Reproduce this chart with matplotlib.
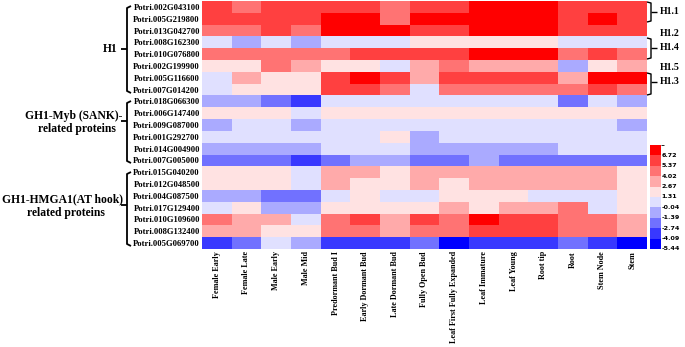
import matplotlib
matplotlib.use("Agg")
import matplotlib.pyplot as plt
import numpy as np
from matplotlib.colors import ListedColormap, BoundaryNorm

genes = ["Potri.002G043100", "Potri.005G219800", "Potri.013G042700", "Potri.008G162300",
         "Potri.010G076800", "Potri.002G199900", "Potri.005G116600", "Potri.007G014200",
         "Potri.018G066300", "Potri.006G147400", "Potri.009G087000", "Potri.001G292700",
         "Potri.014G004900", "Potri.007G005000", "Potri.015G040200", "Potri.012G048500",
         "Potri.004G087500", "Potri.017G129400", "Potri.010G109600", "Potri.008G132400",
         "Potri.005G069700"]

tissues = ["Female Early", "Female Late", "Male Early", "Male Mid", "Predormant Bud I",
           "Early Dormant Bud", "Late Dormant Bud", "Fully Open Bud", "Leaf First Fully Expanded",
           "Leaf Immature", "Leaf Young", "Root tip", "Root", "Stem Node", "Stem"]

expr = [
    [6.0, 4.7, 6.0, 6.0, 6.0, 6.0, 4.7, 6.0, 6.0, 7.4, 7.4, 7.4, 6.0, 6.0, 6.0],
    [6.0, 6.0, 6.0, 6.0, 7.4, 7.4, 4.7, 7.4, 7.4, 7.4, 7.4, 7.4, 6.0, 7.4, 6.0],
    [4.7, 4.7, 6.0, 4.7, 7.4, 7.4, 7.4, 6.0, 6.0, 7.4, 7.4, 7.4, 6.0, 6.0, 6.0],
    [0.6, -0.7, 0.6, -0.7, 0.6, 0.6, 0.6, 2.0, 2.0, 2.0, 2.0, 2.0, 0.6, 0.6, 0.6],
    [4.7, 4.7, 4.7, 4.7, 4.7, 6.0, 6.0, 6.0, 6.0, 7.4, 7.4, 7.4, 4.7, 6.0, 4.7],
    [2.0, 2.0, 4.7, 3.3, 2.0, 2.0, 0.6, 3.3, 4.7, 3.3, 3.3, 3.3, -0.7, 2.0, 3.3],
    [0.6, 3.3, 2.0, 2.0, 6.0, 7.4, 6.0, 3.3, 6.0, 6.0, 6.0, 6.0, 3.3, 7.4, 7.4],
    [0.6, 2.0, 2.0, 2.0, 6.0, 6.0, 4.7, 0.6, 4.7, 4.7, 4.7, 4.7, 4.7, 6.0, 4.7],
    [-0.7, -0.7, -2.1, -3.4, 0.6, 0.6, 0.6, 0.6, 0.6, 0.6, 0.6, 0.6, -2.1, 0.6, -0.7],
    [2.0, 2.0, 2.0, 0.6, 2.0, 2.0, 2.0, 2.0, 2.0, 2.0, 2.0, 2.0, 2.0, 2.0, 2.0],
    [-0.7, 0.6, 0.6, -0.7, 0.6, 0.6, 0.6, 0.6, 0.6, 0.6, 0.6, 0.6, 0.6, 0.6, -0.7],
    [0.6, 0.6, 0.6, 0.6, 0.6, 0.6, 2.0, -0.7, 0.6, 0.6, 0.6, 0.6, 0.6, 0.6, 0.6],
    [-0.7, -0.7, -0.7, -0.7, 0.6, 0.6, 0.6, -0.7, -0.7, -0.7, -0.7, -0.7, 0.6, 0.6, 0.6],
    [-2.1, -2.1, -2.1, -3.4, -2.1, -0.7, -0.7, -2.1, -2.1, -0.7, -2.1, -2.1, -2.1, -2.1, -2.1],
    [2.0, 2.0, 2.0, 0.6, 3.3, 3.3, 2.0, 3.3, 3.3, 3.3, 3.3, 3.3, 3.3, 3.3, 2.0],
    [2.0, 2.0, 2.0, 0.6, 3.3, 2.0, 2.0, 3.3, 2.0, 3.3, 3.3, 3.3, 3.3, 3.3, 2.0],
    [-0.7, -0.7, -2.1, -2.1, 0.6, 2.0, 0.6, 0.6, 2.0, 2.0, 2.0, 0.6, 0.6, 0.6, 2.0],
    [0.6, 2.0, -0.7, -0.7, 2.0, 2.0, 2.0, 2.0, 3.3, 2.0, 3.3, 3.3, 4.7, 0.6, 2.0],
    [4.7, 3.3, 3.3, 0.6, 4.7, 6.0, 3.3, 6.0, 4.7, 7.4, 6.0, 6.0, 4.7, 4.7, 3.3],
    [3.3, 3.3, 2.0, 2.0, 4.7, 4.7, 3.3, 4.7, 4.7, 6.0, 6.0, 6.0, 4.7, 4.7, 3.3],
    [-3.4, -2.1, 0.6, -0.7, -3.4, -3.4, -3.4, -2.1, -4.8, -3.4, -3.4, -3.4, -2.1, -3.4, -4.8],
]

bounds = [-5.44, -4.09, -2.74, -1.39, -0.04, 1.31, 2.67, 4.02, 5.37, 6.72, 8.07]
tick_labels = ["-5.44", "-4.09", "-2.74", "-1.39", "-0.04", "1.31", "2.67", "4.02", "5.37", "6.72"]
colors = ["#0000FF", "#3838FF", "#7171FF", "#AAAAFF", "#E0E0FF",
          "#FFE2E2", "#FFAAAA", "#FF7373", "#FF4040", "#FF0000"]

W, H = 685, 347
fig = plt.figure(figsize=(W / 100, H / 100), dpi=100)

def fx(x):
    return x / W

def fy(y):
    return 1 - y / H

serif = "Liberation Serif"

ax = fig.add_axes([fx(202), fy(249), fx(647) - fx(202), fy(1) - fy(249)])
cmap = ListedColormap(colors)
norm = BoundaryNorm(bounds, cmap.N)
data = np.array(expr)
im = ax.imshow(data, cmap=cmap, norm=norm, aspect="auto", interpolation="nearest")
ax.set_xticks(range(len(tissues)))
ax.set_xticklabels(tissues, rotation=90, fontsize=5.9, fontfamily=serif, fontweight="bold",
                   va="top", ha="center")
ax.set_yticks(range(len(genes)))
ax.set_yticklabels(genes, fontsize=6.2, fontfamily=serif, fontweight="bold")
ax.tick_params(length=0, pad=1.5)
for s in ax.spines.values():
    s.set_visible(False)

# colorbar
cax = fig.add_axes([fx(650), fy(249), fx(661) - fx(650), fy(145) - fy(249)])
cb = fig.colorbar(im, cax=cax, boundaries=bounds, ticks=bounds[:-1])
cb.set_ticklabels(tick_labels)
cb.ax.tick_params(length=0, pad=0.5, labelsize=4.6)
cb.outline.set_visible(False)
for t in cb.ax.get_yticklabels():
    t.set_fontweight("bold")
    t.set_va("center")

def line(xs, ys, lw=1.3):
    fig.add_artist(plt.Line2D([fx(x) for x in xs], [fy(y) for y in ys], color="black",
                              lw=lw, solid_capstyle="butt", solid_joinstyle="round"))

# left group brackets
def left_bracket(y0, y1, ym):
    x = 127
    line([131, x, x, 131], [y0, y0 + 2, y1 - 2, y1])
    line([x, 121], [ym, ym])

left_bracket(6, 93, 49)
left_bracket(101, 163, 121)
left_bracket(172, 246, 205)

fig.text(fx(110), fy(49), "H1", fontsize=8.4, fontfamily=serif, fontweight="bold",
         ha="center", va="center")
fig.text(fx(74), fy(116), "GH1-Myb (SANK)-", fontsize=8.4, fontfamily=serif,
         fontweight="bold", ha="center", va="center")
fig.text(fx(77), fy(129), "related proteins", fontsize=8.4, fontfamily=serif,
         fontweight="bold", ha="center", va="center")
fig.text(fx(63), fy(199), "GH1-HMGA1(AT hook)", fontsize=8.4, fontfamily=serif,
         fontweight="bold", ha="center", va="center")
fig.text(fx(66), fy(213), "related proteins", fontsize=8.4, fontfamily=serif,
         fontweight="bold", ha="center", va="center")

# right subtype brackets
def right_bracket(y0, y1, ym):
    x = 651
    line([647, x, x, 647], [y0, y0 + 1, y1 - 1, y1], lw=1.0)
    line([x, 657], [ym, ym], lw=1.0)

right_bracket(2, 22, 12)
right_bracket(38, 59, 48)
right_bracket(73, 95, 82)

for lbl, y in [("H1.1", 12), ("H1.2", 34), ("H1.4", 48), ("H1.5", 68), ("H1.3", 82)]:
    fig.text(fx(660), fy(y), lbl, fontsize=7.1, fontfamily=serif, fontweight="bold",
             ha="left", va="center")

fig.savefig("out.png", dpi=100)
